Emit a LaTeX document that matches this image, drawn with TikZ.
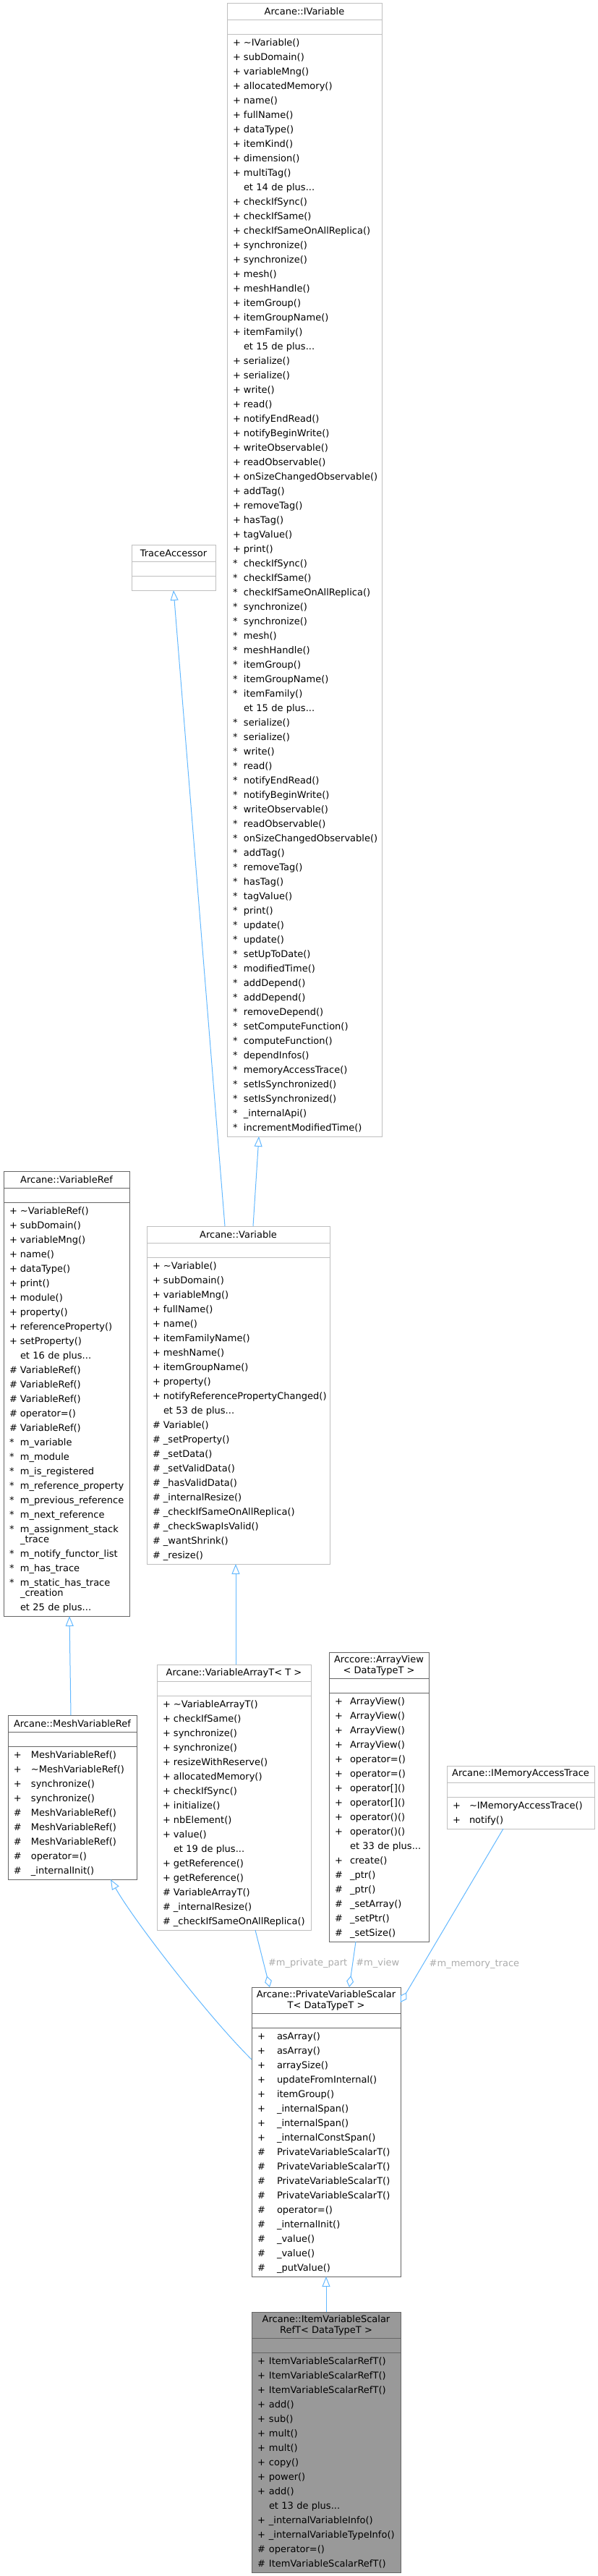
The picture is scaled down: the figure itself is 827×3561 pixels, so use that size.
\documentclass[tikz,border=0pt]{standalone}
\usepackage{fontspec}
\setmainfont{DejaVu Sans}
\usetikzlibrary{arrows.meta,positioning}
\definecolor{lgrey}{HTML}{BFBFBF}
\definecolor{dgrey}{HTML}{666666}
\definecolor{hgrey}{HTML}{999999}
\definecolor{edgeblue}{HTML}{63B8FF}
\definecolor{lbltxt}{HTML}{ABABAB}
\newcommand{\vpub}{+}
\newcommand{\vprot}{\#}
\newcommand{\vpkg}{*}
\tikzset{
  lbox/.style={draw=lgrey,fill=white,line width=1pt,inner sep=0pt,outer sep=0pt},
  dbox/.style={draw=dgrey,fill=white,line width=1pt,inner sep=0pt,outer sep=0pt},
  hbox/.style={draw=dgrey,fill=hgrey,line width=1pt,inner sep=0pt,outer sep=0pt},
  ttl/.style={anchor=north,minimum height=23pt},
  ttltwo/.style={anchor=north,minimum height=36pt,align=center,font=\fontsize{13}{15}\selectfont},
  emp/.style={minimum height=20pt},
  mem/.style={align=left,inner xsep=8pt,inner ysep=2pt},
  inh/.style={-{Triangle[open,length=14pt,width=11pt]},draw=edgeblue,line width=1pt},
  use/.style={-{Diamond[open,length=16pt,width=10pt]},draw=edgeblue,line width=1pt},
  lbl/.style={text=lbltxt,font=\fontsize{13}{15}\selectfont,inner sep=0pt,anchor=west}
}

\begin{document}
\begin{tikzpicture}[x=1pt,y=-1pt,font=\fontsize{13}{20}\selectfont]
  \useasboundingbox (0,0) rectangle (827,3561);

  % Arcane::IVariable
  \node[lbox,ttl,minimum width=214pt] (ivar) at (421,4) {Arcane::IVariable};
  \node[lbox,emp,minimum width=214pt,below=0pt of ivar] (ivar-e) {};
  \node[lbox,mem,text width=198pt,below=0pt of ivar-e] (ivar-m) {\begin{tabular}{@{}p{15pt}@{}l@{}}
    \vpub & \textasciitilde IVariable() \\
    \vpub & subDomain() \\
    \vpub & variableMng() \\
    \vpub & allocatedMemory() \\
    \vpub & name() \\
    \vpub & fullName() \\
    \vpub & dataType() \\
    \vpub & itemKind() \\
    \vpub & dimension() \\
    \vpub & multiTag() \\
          & et 14 de plus... \\
    \vpub & checkIfSync() \\
    \vpub & checkIfSame() \\
    \vpub & checkIfSameOnAllReplica() \\
    \vpub & synchronize() \\
    \vpub & synchronize() \\
    \vpub & mesh() \\
    \vpub & meshHandle() \\
    \vpub & itemGroup() \\
    \vpub & itemGroupName() \\
    \vpub & itemFamily() \\
          & et 15 de plus... \\
    \vpub & serialize() \\
    \vpub & serialize() \\
    \vpub & write() \\
    \vpub & read() \\
    \vpub & notifyEndRead() \\
    \vpub & notifyBeginWrite() \\
    \vpub & writeObservable() \\
    \vpub & readObservable() \\
    \vpub & onSizeChangedObservable() \\
    \vpub & addTag() \\
    \vpub & removeTag() \\
    \vpub & hasTag() \\
    \vpub & tagValue() \\
    \vpub & print() \\
    \vpkg & checkIfSync() \\
    \vpkg & checkIfSame() \\
    \vpkg & checkIfSameOnAllReplica() \\
    \vpkg & synchronize() \\
    \vpkg & synchronize() \\
    \vpkg & mesh() \\
    \vpkg & meshHandle() \\
    \vpkg & itemGroup() \\
    \vpkg & itemGroupName() \\
    \vpkg & itemFamily() \\
          & et 15 de plus... \\
    \vpkg & serialize() \\
    \vpkg & serialize() \\
    \vpkg & write() \\
    \vpkg & read() \\
    \vpkg & notifyEndRead() \\
    \vpkg & notifyBeginWrite() \\
    \vpkg & writeObservable() \\
    \vpkg & readObservable() \\
    \vpkg & onSizeChangedObservable() \\
    \vpkg & addTag() \\
    \vpkg & removeTag() \\
    \vpkg & hasTag() \\
    \vpkg & tagValue() \\
    \vpkg & print() \\
    \vpkg & update() \\
    \vpkg & update() \\
    \vpkg & setUpToDate() \\
    \vpkg & modifiedTime() \\
    \vpkg & addDepend() \\
    \vpkg & addDepend() \\
    \vpkg & removeDepend() \\
    \vpkg & setComputeFunction() \\
    \vpkg & computeFunction() \\
    \vpkg & dependInfos() \\
    \vpkg & memoryAccessTrace() \\
    \vpkg & setIsSynchronized() \\
    \vpkg & setIsSynchronized() \\
    \vpkg & \_internalApi() \\
    \vpkg & incrementModifiedTime()
  \end{tabular}};

  % TraceAccessor
  \node[lbox,ttl,minimum width=116pt] (trace) at (240,753) {TraceAccessor};
  \node[lbox,emp,minimum width=116pt,below=0pt of trace] (trace-e) {};
  \node[lbox,emp,minimum width=116pt,below=0pt of trace-e] (trace-f) {};

  % Arcane::VariableRef
  \node[dbox,ttl,minimum width=174pt] (vref) at (92,1619) {Arcane::VariableRef};
  \node[dbox,emp,minimum width=174pt,below=0pt of vref] (vref-e) {};
  \node[dbox,mem,text width=158pt,below=0pt of vref-e] (vref-m) {\begin{tabular}{@{}p{15pt}@{}l@{}}
    \vpub & \textasciitilde VariableRef() \\
    \vpub & subDomain() \\
    \vpub & variableMng() \\
    \vpub & name() \\
    \vpub & dataType() \\
    \vpub & print() \\
    \vpub & module() \\
    \vpub & property() \\
    \vpub & referenceProperty() \\
    \vpub & setProperty() \\
          & et 16 de plus... \\
    \vprot & VariableRef() \\
    \vprot & VariableRef() \\
    \vprot & VariableRef() \\
    \vprot & operator=() \\
    \vprot & VariableRef() \\
    \vpkg & m\_variable \\
    \vpkg & m\_module \\
    \vpkg & m\_is\_registered \\
    \vpkg & m\_reference\_property \\
    \vpkg & m\_previous\_reference \\
    \vpkg & m\_next\_reference \\
    \vpkg & m\_assignment\_stack \\[-6pt]
          & \_trace \\
    \vpkg & m\_notify\_functor\_list \\
    \vpkg & m\_has\_trace \\
    \vpkg & m\_static\_has\_trace \\[-6pt]
          & \_creation \\
          & et 25 de plus...
  \end{tabular}};

  % Arcane::Variable
  \node[lbox,ttl,minimum width=253pt] (var) at (329.5,1695) {Arcane::Variable};
  \node[lbox,emp,minimum width=253pt,below=0pt of var] (var-e) {};
  \node[lbox,mem,text width=237pt,below=0pt of var-e] (var-m) {\begin{tabular}{@{}p{15pt}@{}l@{}}
    \vpub & \textasciitilde Variable() \\
    \vpub & subDomain() \\
    \vpub & variableMng() \\
    \vpub & fullName() \\
    \vpub & name() \\
    \vpub & itemFamilyName() \\
    \vpub & meshName() \\
    \vpub & itemGroupName() \\
    \vpub & property() \\
    \vpub & notifyReferencePropertyChanged() \\
          & et 53 de plus... \\
    \vprot & Variable() \\
    \vprot & \_setProperty() \\
    \vprot & \_setData() \\
    \vprot & \_setValidData() \\
    \vprot & \_hasValidData() \\
    \vprot & \_internalResize() \\
    \vprot & \_checkIfSameOnAllReplica() \\
    \vprot & \_checkSwapIsValid() \\
    \vprot & \_wantShrink() \\
    \vprot & \_resize()
  \end{tabular}};

  % Arcane::MeshVariableRef
  \node[dbox,ttl,minimum width=178pt] (mvref) at (100,2371) {Arcane::MeshVariableRef};
  \node[dbox,emp,minimum width=178pt,below=0pt of mvref] (mvref-e) {};
  \node[dbox,mem,text width=162pt,below=0pt of mvref-e] (mvref-m) {\begin{tabular}{@{}p{24pt}@{}l@{}}
    \vpub & MeshVariableRef() \\
    \vpub & \textasciitilde MeshVariableRef() \\
    \vpub & synchronize() \\
    \vpub & synchronize() \\
    \vprot & MeshVariableRef() \\
    \vprot & MeshVariableRef() \\
    \vprot & MeshVariableRef() \\
    \vprot & operator=() \\
    \vprot & \_internalInit()
  \end{tabular}};

  % Arcane::VariableArrayT< T >
  \node[lbox,ttl,minimum width=213pt] (varr) at (323.5,2301) {Arcane::VariableArrayT< T >};
  \node[lbox,emp,minimum width=213pt,below=0pt of varr] (varr-e) {};
  \node[lbox,mem,text width=197pt,below=0pt of varr-e] (varr-m) {\begin{tabular}{@{}p{15pt}@{}l@{}}
    \vpub & \textasciitilde VariableArrayT() \\
    \vpub & checkIfSame() \\
    \vpub & synchronize() \\
    \vpub & synchronize() \\
    \vpub & resizeWithReserve() \\
    \vpub & allocatedMemory() \\
    \vpub & checkIfSync() \\
    \vpub & initialize() \\
    \vpub & nbElement() \\
    \vpub & value() \\
          & et 19 de plus... \\
    \vpub & getReference() \\
    \vpub & getReference() \\
    \vprot & VariableArrayT() \\
    \vprot & \_internalResize() \\
    \vprot & \_checkIfSameOnAllReplica()
  \end{tabular}};

  % Arccore::ArrayView< DataTypeT >
  \node[dbox,ttltwo,minimum width=138pt] (aview) at (524,2284) {Arccore::ArrayView\\< DataTypeT >};
  \node[dbox,emp,minimum width=138pt,below=0pt of aview] (aview-e) {};
  \node[dbox,mem,text width=122pt,below=0pt of aview-e] (aview-m) {\begin{tabular}{@{}p{21pt}@{}l@{}}
    \vpub & ArrayView() \\
    \vpub & ArrayView() \\
    \vpub & ArrayView() \\
    \vpub & ArrayView() \\
    \vpub & operator=() \\
    \vpub & operator=() \\
    \vpub & operator[]() \\
    \vpub & operator[]() \\
    \vpub & operator()() \\
    \vpub & operator()() \\
          & et 33 de plus... \\
    \vpub & create() \\
    \vprot & \_ptr() \\
    \vprot & \_ptr() \\
    \vprot & \_setArray() \\
    \vprot & \_setPtr() \\
    \vprot & \_setSize()
  \end{tabular}};

  % Arcane::IMemoryAccessTrace
  \node[lbox,ttl,minimum width=204pt] (imat) at (720,2441) {Arcane::IMemoryAccessTrace};
  \node[lbox,emp,minimum width=204pt,below=0pt of imat] (imat-e) {};
  \node[lbox,mem,text width=188pt,below=0pt of imat-e] (imat-m) {\begin{tabular}{@{}p{23pt}@{}l@{}}
    \vpub & \textasciitilde IMemoryAccessTrace() \\
    \vpub & notify()
  \end{tabular}};

  % Arcane::PrivateVariableScalarT< DataTypeT >
  \node[dbox,ttltwo,minimum width=206pt] (pvs) at (451,2747) {Arcane::PrivateVariableScalar\\T< DataTypeT >};
  \node[dbox,emp,minimum width=206pt,below=0pt of pvs] (pvs-e) {};
  \node[dbox,mem,text width=190pt,below=0pt of pvs-e] (pvs-m) {\begin{tabular}{@{}p{27pt}@{}l@{}}
    \vpub & asArray() \\
    \vpub & asArray() \\
    \vpub & arraySize() \\
    \vpub & updateFromInternal() \\
    \vpub & itemGroup() \\
    \vpub & \_internalSpan() \\
    \vpub & \_internalSpan() \\
    \vpub & \_internalConstSpan() \\
    \vprot & PrivateVariableScalarT() \\
    \vprot & PrivateVariableScalarT() \\
    \vprot & PrivateVariableScalarT() \\
    \vprot & PrivateVariableScalarT() \\
    \vprot & operator=() \\
    \vprot & \_internalInit() \\
    \vprot & \_value() \\
    \vprot & \_value() \\
    \vprot & \_putValue()
  \end{tabular}};

  % Arcane::ItemVariableScalarRefT< DataTypeT >
  \node[hbox,ttltwo,minimum width=206pt] (ivs) at (451,3196) {Arcane::ItemVariableScalar\\RefT< DataTypeT >};
  \node[hbox,emp,minimum width=206pt,below=0pt of ivs] (ivs-e) {};
  \node[hbox,mem,text width=190pt,below=0pt of ivs-e] (ivs-m) {\begin{tabular}{@{}p{16pt}@{}l@{}}
    \vpub & ItemVariableScalarRefT() \\
    \vpub & ItemVariableScalarRefT() \\
    \vpub & ItemVariableScalarRefT() \\
    \vpub & add() \\
    \vpub & sub() \\
    \vpub & mult() \\
    \vpub & mult() \\
    \vpub & copy() \\
    \vpub & power() \\
    \vpub & add() \\
          & et 13 de plus... \\
    \vpub & \_internalVariableInfo() \\
    \vpub & \_internalVariableTypeInfo() \\
    \vprot & operator=() \\
    \vprot & ItemVariableScalarRefT()
  \end{tabular}};

  % inheritance
  \draw[inh] ([xshift=20.5pt]var.north) -- ([xshift=-63pt]ivar-m.south);
  \draw[inh] ([xshift=-18.5pt]var.north) -- (trace-f.south);
  \draw[inh] ([xshift=-2pt]mvref.north) -- ([xshift=4pt]vref-m.south);
  \draw[inh] ([xshift=2.5pt]varr.north) -- ([xshift=-3.5pt]var-m.south);
  \draw[inh] ([yshift=-44pt]pvs-m.north west) .. controls (290,2790) and (185,2655) .. ([xshift=53pt]mvref-m.south);
  \draw[inh] (ivs.north) -- (pvs-m.south);

  % usage
  \draw[use] ([xshift=29.5pt]varr-m.south) -- node[lbl,pos=0.58,xshift=6pt] (lpriv) {\#m\_private\_part} ([xshift=-78pt]pvs.north);
  \draw[use] ([xshift=-32pt]aview-m.south) -- node[lbl,pos=0.47,xshift=4pt] (lview) {\#m\_view} ([xshift=32pt]pvs.north);
  \draw[use] ([xshift=-24pt]imat-m.south) -- node[lbl,pos=0.78,xshift=8pt] (lmem) {\#m\_memory\_trace} ([yshift=-3pt]pvs.east);
\end{tikzpicture}
\end{document}
